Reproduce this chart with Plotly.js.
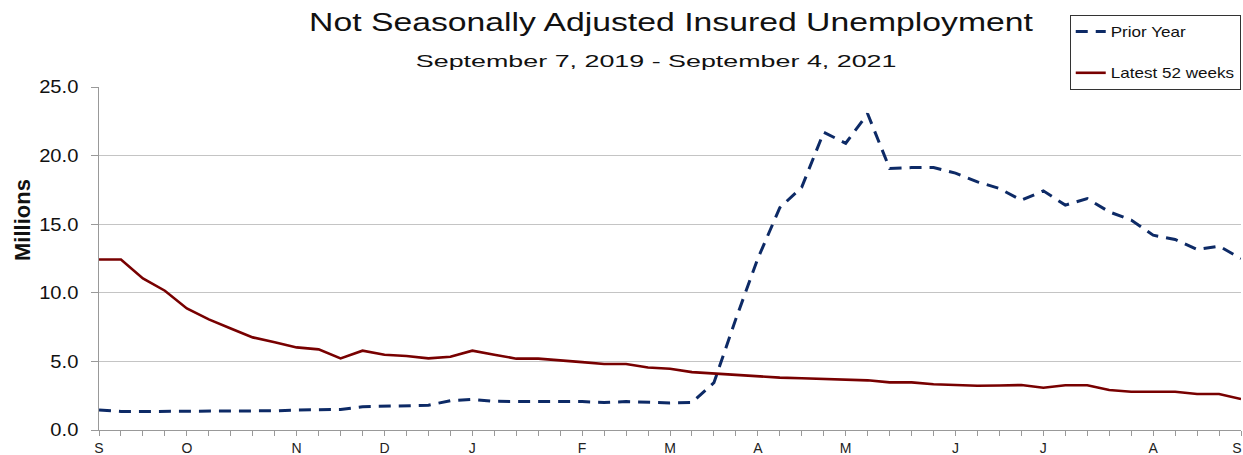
<!DOCTYPE html>
<html>
<head>
<meta charset="utf-8">
<script src="https://cdn.plot.ly/plotly-3.0.1.min.js"></script>
<style>
html, body { margin: 0; padding: 0; background: #ffffff; }
#chart { width: 1243px; height: 455px; }
</style>
</head>
<body>
<div id="chart"></div>
<script>
// Week number (0 = first week of September 2020 ... 52 = week ending Sept 4, 2021)
const weekCount = 53;

// Month tick positions (week index) and labels
const monthTickWeeks = [0, 4, 9, 13, 17, 22, 26, 30, 34, 39, 43, 48, 52];
const monthTickLabels = ['S', 'O', 'N', 'D', 'J', 'F', 'M', 'A', 'M', 'J', 'J', 'A', 'S'];

// Insured unemployment, millions
const priorYear = [
  1.46, 1.35, 1.35, 1.35, 1.35, 1.36, 1.38, 1.40, 1.40, 1.46,
  1.50, 1.50, 1.70, 1.75, 1.78, 1.80, 2.14, 2.23, 2.09, 2.07,
  2.09, 2.07, 2.07, 2.01, 2.07, 2.00, 1.97, 2.00, 3.45, 8.10,
  12.50, 16.20, 17.70, 21.70, 20.90, 23.05, 19.06, 19.13, 19.13, 18.72,
  18.09, 17.60, 16.75, 17.43, 16.39, 16.87, 15.90, 15.30, 14.20, 13.89,
  13.16, 13.40, 12.50
];
const latest52 = [
  12.43, 12.43, 11.05, 10.15, 8.86, 8.06, 7.40, 6.75, 6.39, 6.02,
  5.88, 5.22, 5.78, 5.49, 5.39, 5.22, 5.34, 5.78, 5.49, 5.20,
  5.20, 5.05, 4.95, 4.81, 4.81, 4.56, 4.47, 4.22, 4.12, 3.99,
  3.88, 3.82, 3.77, 3.71, 3.67, 3.62, 3.47, 3.47, 3.33, 3.28,
  3.22, 3.24, 3.28, 3.08, 3.26, 3.26, 2.91, 2.79, 2.79, 2.79,
  2.62, 2.62, 2.26
];

const weeks = Array.from({length: weekCount}, (_, i) => i);
const tickText = weeks.map(w => {
  const k = monthTickWeeks.indexOf(w);
  return k >= 0 ? monthTickLabels[k] : '';
});

const FONT = '"Liberation Sans", Arial, sans-serif';

const traces = [
  {
    x: weeks, y: priorYear, type: 'scatter', mode: 'lines',
    name: 'Prior Year', legendgroup: 'a',
    line: {color: '#0d2a66', width: 3, dash: '12px,8px'},
    hoverinfo: 'skip'
  },
  {
    x: weeks, y: latest52, type: 'scatter', mode: 'lines',
    name: 'Latest 52 weeks', legendgroup: 'b',
    line: {color: '#780000', width: 2.6},
    hoverinfo: 'skip'
  }
];

const layout = {
  width: 1243, height: 455,
  margin: {l: 99, r: 2, t: 87, b: 25, pad: 0},
  paper_bgcolor: '#ffffff', plot_bgcolor: '#ffffff',
  font: {family: FONT, color: '#111111'},
  showlegend: true,
  title: {
    text: 'Not Seasonally Adjusted Insured Unemployment',
    font: {family: FONT, size: 25, color: '#111111'},
    x: 671 / 1243, xref: 'container', xanchor: 'center',
    y: 1 - 22 / 455, yref: 'container', yanchor: 'middle'
  },
  xaxis: {
    range: [0, 52],
    tickmode: 'array', tickvals: weeks, ticktext: tickText,
    ticks: 'outside', ticklen: 5, tickwidth: 1, tickcolor: '#999999',
    ticklabeloverflow: 'allow',
    showline: true, linecolor: '#999999', linewidth: 1,
    showgrid: false, zeroline: false,
    tickfont: {family: FONT, size: 14, color: '#222222'},
    fixedrange: true
  },
  yaxis: {
    range: [0, 25], dtick: 5, tick0: 0, tickformat: '.1f',
    ticks: 'outside', ticklen: 7, tickwidth: 1, tickcolor: '#999999',
    ticklabelstandoff: 9,
    showline: true, linecolor: '#999999', linewidth: 1,
    showgrid: true, gridcolor: '#c4c4c4', gridwidth: 1,
    zeroline: false,
    tickfont: {family: FONT, size: 18, color: '#111111'},
    fixedrange: true
  },
  legend: {
    x: 1, xanchor: 'right', xref: 'paper',
    y: 1 + 72 / 343, yanchor: 'top', yref: 'paper',
    bgcolor: '#ffffff', bordercolor: '#333333', borderwidth: 1,
    font: {family: FONT, size: 14, color: '#111111'},
    traceorder: 'grouped', tracegroupgap: 20,
    itemwidth: 30
  },
  annotations: [
    {
      text: 'September 7, 2019 - September 4, 2021',
      xref: 'paper', yref: 'paper',
      x: (656 - 99) / 1142, y: 1 + (87 - 62) / 343,
      xanchor: 'center', yanchor: 'middle', showarrow: false,
      font: {family: FONT, size: 17, color: '#111111'}
    },
    {
      text: '<b>Millions</b>',
      xref: 'paper', yref: 'paper',
      x: (22 - 99) / 1142, y: (430 - 220) / 343,
      xanchor: 'center', yanchor: 'middle', showarrow: false,
      textangle: -90,
      font: {family: FONT, size: 22, color: '#111111'}
    }
  ]
};

// Horizontal widening of rendered text (the reference renders text wider than Arial)
function stretchText(el, sx, anchor) {
  const bb = el.getBBox();
  const cx = anchor === 'start' ? bb.x : (anchor === 'end' ? bb.x + bb.width : bb.x + bb.width / 2);
  const prev = el.getAttribute('transform') || '';
  el.setAttribute('transform', prev + ' translate(' + cx + ',0) scale(' + sx + ',1) translate(' + (-cx) + ',0)');
}

Plotly.newPlot('chart', traces, layout, {displayModeBar: false, staticPlot: true}).then(gd => {
  gd.querySelectorAll('text.gtitle').forEach(t => stretchText(t, 1.35, 'middle'));
  const ann = gd.querySelectorAll('.annotation-text');
  if (ann[0]) stretchText(ann[0], 1.58, 'middle');
  gd.querySelectorAll('.ytick text').forEach(t => stretchText(t, 1.12, 'end'));

  // keep the last month label inside the picture
  const xt = gd.querySelectorAll('.xtick text');
  if (xt.length) {
    const last = xt[xt.length - 1];
    const prev = last.getAttribute('transform') || '';
    last.setAttribute('transform', prev + ' translate(-4,0)');
  }

  // Legend: widen text and grow the box to the left
  const legend = gd.querySelector('g.legend');
  if (legend) {
    const s = 1.22;
    let maxW = 0;
    legend.querySelectorAll('text.legendtext').forEach(t => {
      maxW = Math.max(maxW, t.getBBox().width);
      stretchText(t, s, 'start');
    });
    const delta = maxW * (s - 1);
    const bg = legend.querySelector('rect.bg');
    if (bg) bg.setAttribute('width', parseFloat(bg.getAttribute('width')) + delta);
    legend.querySelectorAll('[clip-path]').forEach(e => e.removeAttribute('clip-path'));
    const tr = legend.getAttribute('transform') || '';
    const m = tr.match(/translate\(\s*([-\d.]+)[ ,]+([-\d.]+)\s*\)/);
    if (m) legend.setAttribute('transform', 'translate(' + (parseFloat(m[1]) - delta) + ',' + m[2] + ')');
  }
});
</script>
</body>
</html>
